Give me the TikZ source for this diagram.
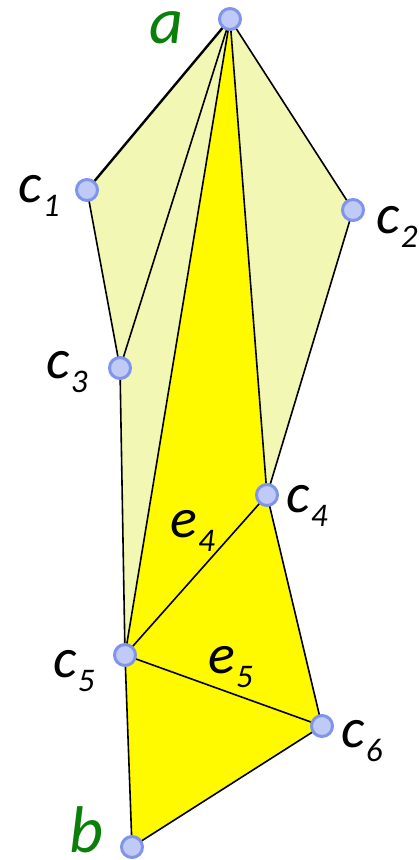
\documentclass[tikz,border=0pt]{standalone}
\usepackage{fontspec}
\setmainfont{Carlito}
\definecolor{lightfill}{RGB}{242,247,180}
\definecolor{brightfill}{RGB}{255,250,0}
\definecolor{ptfill}{RGB}{192,202,246}
\definecolor{ptdraw}{RGB}{128,148,236}
\definecolor{lblgreen}{RGB}{10,128,10}
\newcommand{\mylab}[2]{{\fontsize{56}{56}\selectfont\itshape #1}\hspace{1.5pt}\raisebox{-14pt}{\fontsize{33}{33}\selectfont\itshape #2}}
\begin{document}
\begin{tikzpicture}[x=1pt,y=-1pt,
  pt/.style={circle,minimum size=21pt,inner sep=0pt,fill=ptfill,draw=ptdraw,line width=3pt},
  edge/.style={line width=1.6pt,black,line join=round},
  lbl/.style={anchor=base west,inner sep=0pt,outer sep=0pt},
  glbl/.style={anchor=base west,inner sep=0pt,outer sep=0pt,text=lblgreen,font=\fontsize{66}{66}\selectfont\itshape}]
\useasboundingbox (0,0) rectangle (419,860);
\coordinate (A) at (230,19);
\coordinate (C1) at (87,190);
\coordinate (C2) at (353,210);
\coordinate (C3) at (120,368);
\coordinate (C4) at (267,495);
\coordinate (C5) at (125,655);
\coordinate (C6) at (322,726);
\coordinate (B) at (132,847);
% fills
\fill[lightfill] (A) -- (C1) -- (C3) -- (C5) -- cycle;
\fill[lightfill] (A) -- (C2) -- (C4) -- cycle;
\fill[brightfill] (A) -- (C5) -- (B) -- (C6) -- (C4) -- cycle;
% edges
\draw[edge,line width=2.4pt] (A) -- (C1);
\draw[edge] (C1) -- (C3);
\draw[edge] (C3) -- (C5);
\draw[edge] (A) -- (C3);
\draw[edge] (A) -- (C5);
\draw[edge] (A) -- (C4);
\draw[edge] (A) -- (C2);
\draw[edge] (C2) -- (C4);
\draw[edge] (C4) -- (C5);
\draw[edge] (C4) -- (C6);
\draw[edge] (C5) -- (C6);
\draw[edge] (C5) -- (B);
\draw[edge] (B) -- (C6);
% points
\node[pt] (pa) at (A) {};
\node[pt] (pc1) at (C1) {};
\node[pt] (pc2) at (C2) {};
\node[pt] (pc3) at (C3) {};
\node[pt] (pc4) at (C4) {};
\node[pt] (pc5) at (C5) {};
\node[pt] (pc6) at (C6) {};
\node[pt] (pb) at (B) {};
% labels
\node[glbl] (la) at (149,43) {a};
\node[glbl] (lb) at (69,852) {b};
\node[lbl] (lc1) at (18,202) {\mylab{c}{1}};
\node[lbl] (lc2) at (376,233) {\mylab{c}{2}};
\node[lbl] (lc3) at (46,378) {\mylab{c}{3}};
\node[lbl] (lc4) at (286,512) {\mylab{c}{4}};
\node[lbl] (lc5) at (53,677) {\mylab{c}{5}};
\node[lbl] (lc6) at (341,747) {\mylab{c}{6}};
\node[lbl] (le4) at (170,537) {\mylab{e}{4}};
\node[lbl] (le5) at (208,673) {\mylab{e}{5}};
\end{tikzpicture}
\end{document}
